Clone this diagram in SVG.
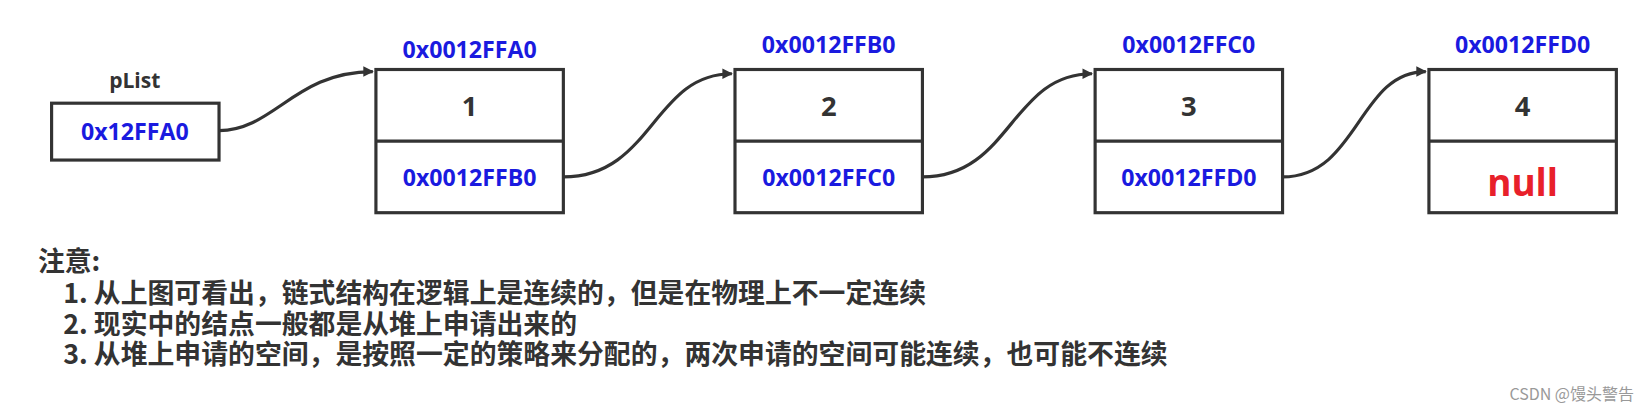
<svg xmlns="http://www.w3.org/2000/svg" width="1651" height="412" viewBox="0 0 1651 412">
<style>
.box{fill:#fff;stroke:#333;stroke-width:3}
.b{font-family:"Open Sans","Noto Sans",sans-serif;font-weight:bold;text-anchor:middle}
.addr{fill:#1a1adf;font-size:22px}
.num{fill:#333;font-size:26px}
.cn{font-family:"Noto Sans CJK SC",sans-serif;font-weight:bold;font-size:25.5px;fill:#333}
.c{fill:none;stroke:#333;stroke-width:3}
</style>
<defs><marker id="a" markerWidth="10" markerHeight="10" refX="9" refY="5" orient="auto" markerUnits="userSpaceOnUse" viewBox="0 0 10 10"><path d="M0,0L10,5L0,10z" fill="#333"/></marker></defs>
<rect width="1651" height="412" fill="#fff"/>
<g transform="scale(1.053)">
<g id="plist">
<text class="b num" x="128" y="84" style="font-size:20px">pList</text>
<rect class="box" x="49" y="98" width="159" height="54"/>
<text class="b addr" x="128" y="133">0x12FFA0</text>
</g>
<g id="n1">
<text class="b addr" x="446" y="55">0x0012FFA0</text>
<rect class="box" x="357" y="66" width="178" height="136"/><line class="box" x1="357" y1="134" x2="535" y2="134"/>
<text class="b num" x="446" y="110">1</text><text class="b addr" x="446" y="177">0x0012FFB0</text>
</g>
<g id="n2">
<text class="b addr" x="787" y="50">0x0012FFB0</text>
<rect class="box" x="698" y="66" width="178" height="136"/><line class="box" x1="698" y1="134" x2="876" y2="134"/>
<text class="b num" x="787" y="110">2</text><text class="b addr" x="787" y="177">0x0012FFC0</text>
</g>
<g id="n3">
<text class="b addr" x="1129" y="50">0x0012FFC0</text>
<rect class="box" x="1040" y="66" width="178" height="136"/><line class="box" x1="1040" y1="134" x2="1218" y2="134"/>
<text class="b num" x="1129" y="110">3</text><text class="b addr" x="1129" y="177">0x0012FFD0</text>
</g>
<g id="n4">
<text class="b addr" x="1446" y="50">0x0012FFD0</text>
<rect class="box" x="1357" y="66" width="178" height="136"/><line class="box" x1="1357" y1="134" x2="1535" y2="134"/>
<text class="b num" x="1446" y="110">4</text><text class="b" x="1446" y="186" style="fill:#e8202a;font-size:35px">null</text>
</g>
<g id="connectors">
<path class="c" marker-end="url(#a)" d="M208,124C260,124 280,68 354,68"/>
<path class="c" marker-end="url(#a)" d="M535,168C620,168 620,70 695,70"/>
<path class="c" marker-end="url(#a)" d="M876,168C960,168 960,70 1037,70"/>
<path class="c" marker-end="url(#a)" d="M1218,168C1290,168 1290,68 1354,68"/>
</g>
<g id="notes">
<text class="cn" x="36" y="257">注意:</text>
<text class="cn" x="60" y="288">1. 从上图可看出，链式结构在逻辑上是连续的，但是在物理上不一定连续</text>
<text class="cn" x="60" y="317">2. 现实中的结点一般都是从堆上申请出来的</text>
<text class="cn" x="60" y="346">3. 从堆上申请的空间，是按照一定的策略来分配的，两次申请的空间可能连续，也可能不连续</text>
</g>
</g>
<text x="1634" y="400" style="font-family:'Noto Sans CJK SC',sans-serif;font-size:16px;fill:#999;text-anchor:end">CSDN @馒头警告</text>
</svg>
